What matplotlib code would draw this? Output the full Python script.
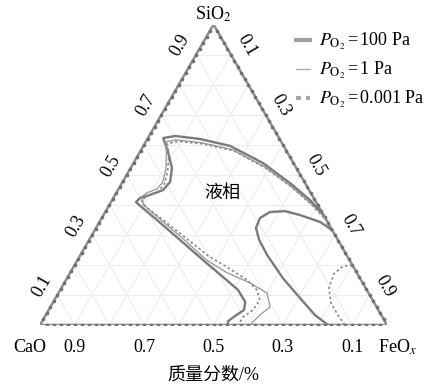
import numpy as np
import matplotlib
matplotlib.use("Agg")
import matplotlib.pyplot as plt
from matplotlib.lines import Line2D

plt.rcParams['font.family'] = ['Liberation Serif', 'Noto Sans CJK SC']
plt.rcParams['mathtext.fontset'] = 'stix'

# Mass fractions (SiO2, FeOx) of the liquidus boundaries; CaO is the balance.
tick_values = [0.1, 0.3, 0.5, 0.7, 0.9]
tick_labels = ['0.1', '0.3', '0.5', '0.7', '0.9']

p100_sio2 = [0.366, 0.416, 0.4725, 0.539, 0.596, 0.619, 0.629, 0.622, 0.576, 0.5225,
             0.476, 0.449, 0.433, 0.423, 0.409, 0.389, 0.349, 0.283, 0.216, 0.160,
             0.117, 0.077, 0.050, 0.030, 0.013, 0.000]
p100_feo = [0.634, 0.570, 0.484, 0.373, 0.250, 0.152, 0.075, 0.044, 0.081, 0.119,
            0.137, 0.130, 0.101, 0.077, 0.072, 0.102, 0.163, 0.262, 0.362, 0.447,
            0.512, 0.553, 0.563, 0.547, 0.536, 0.540]
p100_loop_sio2 = [0.316, 0.343, 0.366, 0.379, 0.376, 0.356, 0.323, 0.283, 0.233, 0.156,
                  0.090, 0.033, 0.000]
p100_loop_feo = [0.684, 0.6355, 0.566, 0.516, 0.475, 0.456, 0.461, 0.490, 0.538, 0.622,
                 0.704, 0.776, 0.830]

p1_sio2 = [0.355, 0.405, 0.462, 0.527, 0.584, 0.607, 0.616, 0.610, 0.568, 0.518,
           0.474, 0.452, 0.440, 0.428, 0.400, 0.352, 0.285, 0.216, 0.175, 0.140,
           0.1065, 0.060, 0.033, 0.000]
p1_feo = [0.645, 0.578, 0.492, 0.383, 0.262, 0.160, 0.086, 0.058, 0.080, 0.104,
          0.116, 0.110, 0.088, 0.080, 0.098, 0.170, 0.272, 0.372, 0.450, 0.535,
          0.601, 0.633, 0.617, 0.605]

p0001_sio2 = [0.345, 0.400, 0.458, 0.523, 0.580, 0.603, 0.611, 0.604, 0.562, 0.512,
              0.468, 0.445, 0.430, 0.415, 0.392, 0.353, 0.290, 0.230, 0.193, 0.150,
              0.1165, 0.083, 0.050, 0.027, 0.000]
p0001_feo = [0.655, 0.583, 0.497, 0.388, 0.268, 0.166, 0.094, 0.065, 0.090, 0.112,
             0.124, 0.118, 0.095, 0.085, 0.110, 0.175, 0.275, 0.370, 0.442, 0.522,
             0.567, 0.592, 0.589, 0.572, 0.571]
p0001_loop_sio2 = [0.200, 0.196, 0.170, 0.123, 0.073, 0.033, 0.000]
p0001_loop_feo = [0.800, 0.775, 0.762, 0.771, 0.802, 0.842, 0.879]

H = np.sqrt(3) / 2


def to_xy(sio2, feo):
    s = np.asarray(sio2, dtype=float)
    f = np.asarray(feo, dtype=float)
    return f + s / 2, s * H


W, Hpx = 434, 388
fig = plt.figure(figsize=(W / 100, Hpx / 100), dpi=100)
ax = fig.add_axes([40 / W, 63 / Hpx, 347 / W, 300.5 / Hpx])
ax.set_xlim(0, 1)
ax.set_ylim(0, H)
ax.axis('off')

# background grid at 0.1 steps
grid_kw = dict(color='#ededed', lw=0.8, zorder=0)
for v in np.arange(0.1, 1.0, 0.1):
    x, y = to_xy([v, v], [0, 1 - v])
    ax.plot(x, y, **grid_kw)
    x, y = to_xy([0, 1 - v], [v, v])
    ax.plot(x, y, **grid_kw)
    x, y = to_xy([0, 1 - v], [1 - v, 0])
    ax.plot(x, y, **grid_kw)

# triangle frame with fine tick dots
cx, cy = to_xy([0, 0, 1, 0], [0, 1, 0, 0])
ax.plot(cx, cy, color='#8e8e8e', lw=1.8, zorder=2, solid_joinstyle='miter')
t = np.arange(0.02, 1.0, 0.02)
for xs, ys in [to_xy(np.zeros_like(t), t), to_xy(t, np.zeros_like(t)), to_xy(t, 1 - t)]:
    ax.plot(xs, ys, 'o', ms=1.6, color='#707070', zorder=3)

# liquidus boundaries
c100 = dict(color='#7a7a7a', lw=1.7, zorder=4)
c1 = dict(color='#959595', lw=0.9, zorder=5)
c0001 = dict(color='#8a8a8a', lw=1.2, dashes=(1.5, 1.5), zorder=5)
ax.plot(*to_xy(p100_sio2, p100_feo), **c100)
ax.plot(*to_xy(p100_loop_sio2, p100_loop_feo), **c100)
ax.plot(*to_xy(p1_sio2, p1_feo), **c1)
ax.plot(*to_xy(p0001_sio2, p0001_feo), **c0001)
ax.plot(*to_xy(p0001_loop_sio2, p0001_loop_feo), **c0001)

# tick labels on the three edges
fs = 13
off = 0.052
nl = np.array([-np.sqrt(3) / 2, 0.5])
nr = np.array([np.sqrt(3) / 2, 0.5])
for v, lab in zip(tick_values, tick_labels):
    x, y = to_xy([v], [0])
    ax.text(x[0] + off * nl[0], y[0] + off * nl[1], lab, rotation=60,
            ha='center', va='center', fontsize=fs, clip_on=False)
    x, y = to_xy([1 - v], [v])
    ax.text(x[0] + off * nr[0], y[0] + off * nr[1], lab, rotation=-60,
            ha='center', va='center', fontsize=fs, clip_on=False)
    x, y = to_xy([0], [1 - v])
    ax.text(x[0], -0.064, lab, ha='center', va='center', fontsize=fs, clip_on=False)

ax.text(0.5, H + 0.03, 'SiO$_2$', ha='center', va='center', fontsize=fs, clip_on=False)
ax.text(-0.029, -0.064, 'CaO', ha='center', va='center', fontsize=fs, clip_on=False)
ax.text(1.03, -0.064, 'FeO$_{x}$', ha='center', va='center', fontsize=fs, clip_on=False)
ax.text(0.5, -0.145, '质量分数/%', ha='center', va='center', fontsize=fs, clip_on=False)
ax.text(0.525, 0.38, '液相', ha='center', va='center', fontsize=fs, clip_on=False)

handles = [Line2D([], [], color='#a0a0a0', lw=3.0),
           Line2D([], [], color='#a8a8a8', lw=0.9),
           Line2D([], [], color='#a8a8a8', lw=3.0, dashes=(1.2, 1.2))]
labels = [r'$P_{\mathrm{O}_2}$$\,$=$\,$100 Pa', r'$P_{\mathrm{O}_2}$$\,$=$\,$1 Pa',
          r'$P_{\mathrm{O}_2}$$\,$=$\,$0.001 Pa']
fig.legend(handles, labels, loc='upper left', bbox_to_anchor=(296 / W, 1 - 31 / Hpx),
           frameon=False, fontsize=fs, handlelength=0.8, handletextpad=0.5,
           labelspacing=0.45, borderpad=0, borderaxespad=0)

fig.savefig('out.png', dpi=100)
